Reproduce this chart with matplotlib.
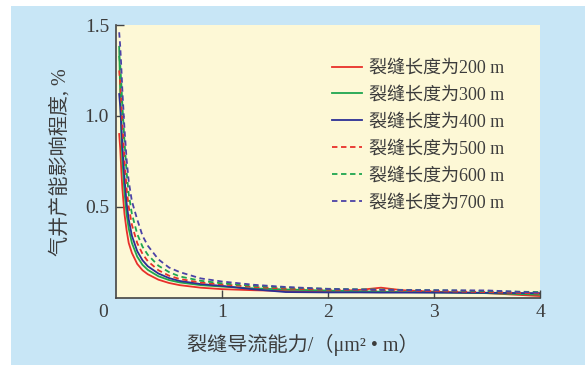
import matplotlib
matplotlib.use("Agg")
import matplotlib.pyplot as plt
from matplotlib.patches import Rectangle

plt.rcParams['font.family'] = ['Liberation Serif', 'Noto Sans CJK SC']

# fracture conductivity, um2*m
x = [0.03, 0.04, 0.05, 0.06, 0.08, 0.1, 0.12, 0.15, 0.2, 0.25, 0.3, 0.4, 0.5,
     0.6, 0.8, 1.0, 1.3, 1.6, 2.0, 2.3, 2.5, 2.7, 3.0, 3.5, 4.0]

y200 = [0.90, 0.82, 0.70, 0.60, 0.46, 0.37, 0.30, 0.245, 0.185, 0.15, 0.128, 0.098, 0.08,
        0.068, 0.054, 0.046, 0.040, 0.036, 0.033, 0.042, 0.054, 0.040, 0.032, 0.024, 0.008]
y300 = [1.38, 1.12, 0.90, 0.76, 0.58, 0.46, 0.38, 0.30, 0.225, 0.18, 0.152, 0.117, 0.096,
        0.083, 0.068, 0.060, 0.050, 0.044, 0.038, 0.034, 0.032, 0.030, 0.028, 0.024, 0.016]
y400 = [1.12, 1.05, 0.95, 0.84, 0.66, 0.52, 0.43, 0.34, 0.255, 0.205, 0.172, 0.132, 0.107,
        0.091, 0.074, 0.064, 0.045, 0.030, 0.028, 0.028, 0.027, 0.027, 0.027, 0.026, 0.024]
y500 = [1.25, 1.18, 1.08, 0.96, 0.76, 0.60, 0.50, 0.40, 0.30, 0.24, 0.20, 0.15, 0.12,
        0.102, 0.082, 0.072, 0.058, 0.049, 0.043, 0.041, 0.040, 0.038, 0.035, 0.030, 0.022]
y600 = [1.33, 1.28, 1.18, 1.06, 0.86, 0.69, 0.57, 0.46, 0.35, 0.28, 0.235, 0.175, 0.14,
        0.116, 0.092, 0.078, 0.064, 0.055, 0.048, 0.045, 0.044, 0.042, 0.040, 0.035, 0.030]
y700 = [1.46, 1.38, 1.27, 1.14, 0.93, 0.76, 0.64, 0.53, 0.43, 0.34, 0.285, 0.21, 0.165,
        0.14, 0.105, 0.088, 0.070, 0.058, 0.047, 0.044, 0.042, 0.041, 0.040, 0.039, 0.026]

labels = ['裂缝长度为200 m', '裂缝长度为300 m', '裂缝长度为400 m',
          '裂缝长度为500 m', '裂缝长度为600 m', '裂缝长度为700 m']
series = [y200, y300, y400, y500, y600, y700]
colors = ['#e8302a', '#1ea64f', '#2b2f95', '#e8302a', '#1ea64f', '#4b42a6']
styles = ['-', '-', '-', '--', '--', '--']

txt = '#3c3c3c'

fig = plt.figure(figsize=(5.85, 3.65), dpi=100, facecolor='white')
fig.patches.append(Rectangle((11 / 585, 0), 1, 359 / 365, transform=fig.transFigure,
                             facecolor='#c8e6f6', edgecolor='none', zorder=-10))

ax = fig.add_axes([116 / 585, 67.5 / 365, 424 / 585, 272.5 / 365])
ax.set_facecolor('#fdf8d6')

for ys, c, ls, lab in zip(series, colors, styles, labels):
    ax.plot(x, ys, color=c, linestyle=ls, linewidth=1.3, label=lab,
            dashes=(3, 2) if ls == '--' else (None, None))

ax.set_xlim(0, 4)
ax.set_ylim(0, 1.5)
ax.set_xticks([1, 2, 3, 4])
ax.set_yticks([0.5, 1.0, 1.5])
ax.set_yticklabels(['0.5', '1.0', '1.5'])
ax.tick_params(direction='in', length=6, width=1, color='#444444', labelcolor=txt,
               labelsize=14, pad=5)
for s in ['top', 'right']:
    ax.spines[s].set_visible(False)
for s in ['left', 'bottom']:
    ax.spines[s].set_color('#444444')
    ax.spines[s].set_linewidth(1.2)

ax.annotate('0', xy=(0, 0), xytext=(-6, -11), textcoords='offset points',
            ha='right', va='center', fontsize=14, color=txt)

leg = ax.legend(loc='upper left', bbox_to_anchor=(0.509, 0.872), frameon=False,
                fontsize=13, handlelength=1.65, handletextpad=0.4,
                labelspacing=0.55, borderpad=0, borderaxespad=0)
for t in leg.get_texts():
    t.set_color(txt)

fig.text(60 / 585, 1 - 162 / 365, '气井产能影响程度, %', rotation=90,
         ha='center', va='center', fontsize=14.5, color=txt)
fig.text(303 / 585, 1 - 345 / 365, '裂缝导流能力/（μm² • m）',
         ha='center', va='center', fontsize=14.5, color=txt)

fig.savefig('out.png', dpi=100, facecolor=fig.get_facecolor())
